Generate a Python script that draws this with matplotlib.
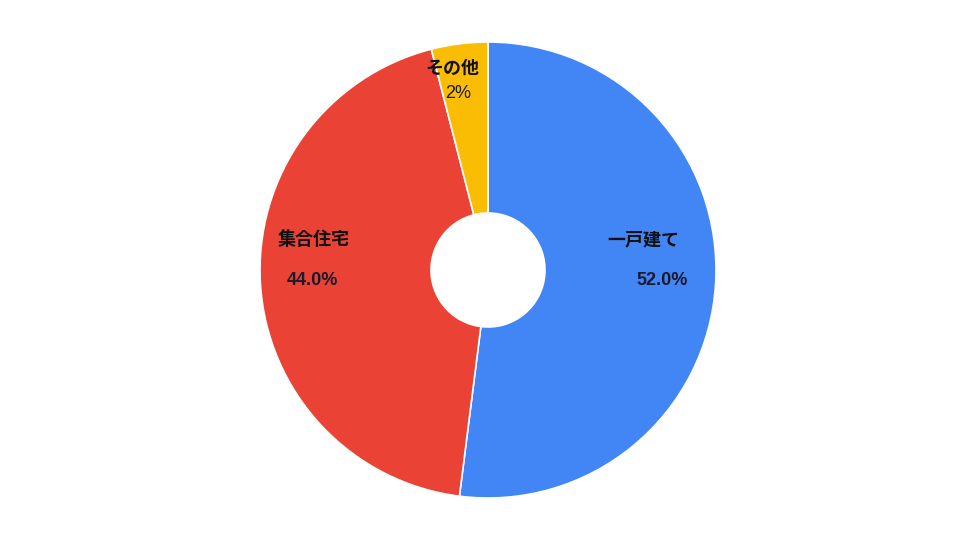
import matplotlib.pyplot as plt

plt.rcParams['font.family'] = ['Noto Sans CJK JP', 'DejaVu Sans']

# データ
categories = ["一戸建て", "集合住宅", "その他"]
values = [52.0, 44.0, 4.0]
pct_labels = ["52.0%", "44.0%", "2%"]
colors = ["#4285F4", "#EA4335", "#FBBC04"]

fig = plt.figure(figsize=(9.6, 5.4), dpi=100)
ax = fig.add_axes([0, 0, 1, 1])

ax.pie(values, colors=colors, startangle=90, counterclock=False, radius=1.0,
       wedgeprops=dict(width=0.75, edgecolor="white", linewidth=1.2))

# ラベル (中心からの位置)
name_pos = [(0.68, 0.132), (-0.763, 0.132), (-0.154, 0.885)]
pct_pos = [(0.763, -0.044), (-0.768, -0.044), (-0.132, 0.776)]
for i in range(len(categories)):
    ax.text(name_pos[i][0], name_pos[i][1], categories[i], ha="center", va="center",
            fontsize=13, fontweight="bold", color="#111111")
    w = "normal" if i == 2 else "bold"
    ax.text(pct_pos[i][0], pct_pos[i][1], pct_labels[i], ha="center", va="center",
            fontsize=13, fontweight=w, color="#1a1a2e", family="Liberation Sans")

ax.set_xlim(-488 / 228, 472 / 228)
ax.set_ylim(-270 / 228, 270 / 228)
ax.set_aspect("equal")
ax.axis("off")

fig.savefig("out.png", dpi=100)
